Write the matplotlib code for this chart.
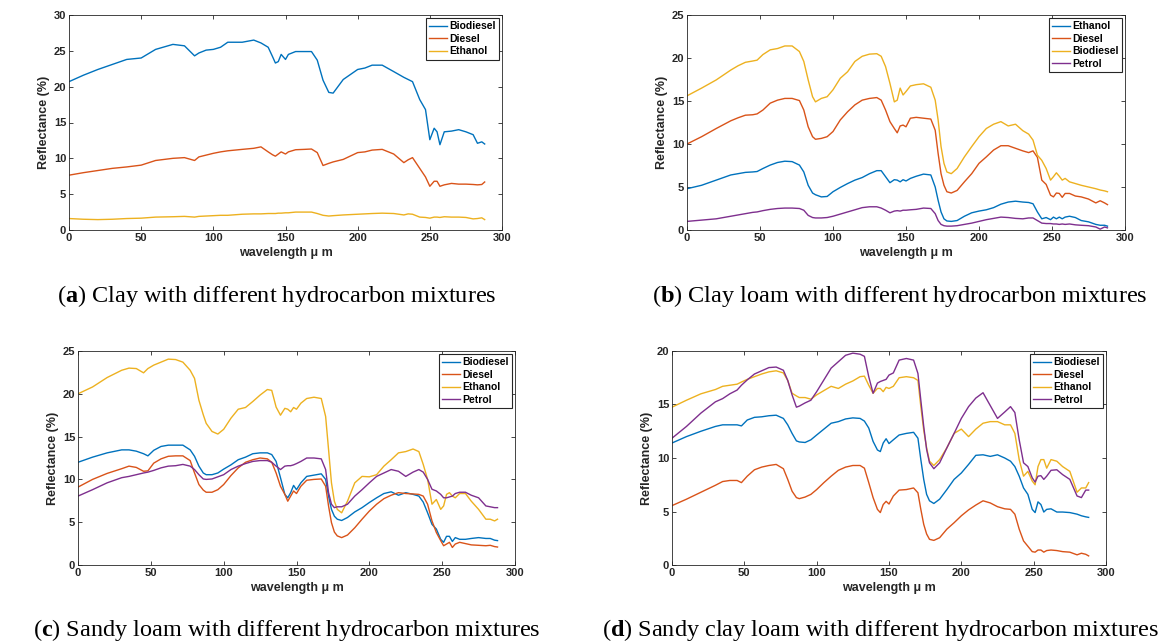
import matplotlib
matplotlib.use("Agg")
import matplotlib.pyplot as plt

plt.rcParams['font.family'] = 'Liberation Sans'
plt.rcParams['font.weight'] = 'bold'
plt.rcParams['axes.labelweight'] = 'bold'
plt.rcParams['mathtext.fontset'] = 'custom'
plt.rcParams['mathtext.rm'] = 'Liberation Serif'
plt.rcParams['mathtext.bf'] = 'Liberation Serif:bold'

# MATLAB default line colours
BLUE, RED, YELLOW, PURPLE = '#0072BD', '#D95319', '#EDB120', '#7E2F8E'
DARK = '#262626'

# ---- panel (a): clay ----
wl_a = [0, 10, 20, 30, 40, 50, 60, 72, 80, 87,
        90, 95, 100, 105, 110, 120, 128, 133, 138, 141,
        143, 145, 147, 150, 152, 157, 163, 168, 172, 176,
        180, 183, 190, 200, 205, 210, 217, 225, 232, 235,
        238, 243, 247, 250, 253, 255, 257, 260, 265, 270,
        275, 280, 283, 286, 288]
a_biodiesel = [20.7, 21.6, 22.4, 23.1, 23.8, 24.0, 25.2, 25.9, 25.7, 24.3,
               24.7, 25.1, 25.2, 25.5, 26.2, 26.2, 26.5, 26.1, 25.5, 24.2,
               23.3, 23.5, 24.5, 23.8, 24.5, 24.9, 24.9, 24.9, 23.7, 20.9,
               19.2, 19.1, 21.0, 22.4, 22.6, 23.0, 23.0, 22.1, 21.3, 21.0,
               20.7, 18.2, 16.8, 12.6, 14.2, 13.7, 11.9, 13.7, 13.8, 14.0,
               13.7, 13.3, 12.1, 12.3, 12.0]
a_diesel = [7.65, 8.0, 8.3, 8.6, 8.8, 9.05, 9.7, 10.0, 10.1, 9.7,
            10.2, 10.45, 10.7, 10.9, 11.05, 11.25, 11.4, 11.6, 10.9, 10.5,
            10.3, 10.6, 10.9, 10.6, 10.9, 11.2, 11.25, 11.3, 10.8, 9.0,
            9.3, 9.5, 9.85, 10.8, 10.9, 11.15, 11.25, 10.6, 9.4, 9.8,
            10.1, 8.6, 7.4, 6.1, 6.8, 6.8, 6.1, 6.3, 6.5, 6.4,
            6.4, 6.35, 6.3, 6.35, 6.7]
a_ethanol = [1.6, 1.5, 1.45, 1.5, 1.6, 1.65, 1.8, 1.85, 1.9, 1.8,
             1.9, 1.95, 2.0, 2.05, 2.05, 2.2, 2.25, 2.25, 2.3, 2.3,
             2.3, 2.35, 2.35, 2.4, 2.4, 2.5, 2.5, 2.5, 2.3, 2.05,
             1.95, 2.0, 2.1, 2.2, 2.25, 2.3, 2.35, 2.3, 2.1, 2.25,
             2.2, 1.8, 1.75, 1.65, 1.8, 1.8, 1.75, 1.85, 1.8, 1.8,
             1.75, 1.55, 1.6, 1.7, 1.45]

# ---- shared wavelength grid for panels (b), (c), (d) ----
wl = [0, 10, 20, 30, 35, 40, 45, 48, 52, 57,
      62, 67, 72, 77, 80, 83, 86, 88, 92, 96,
      100, 105, 110, 115, 120, 125, 130, 133, 136, 139,
      142, 144, 146, 148, 150, 153, 157, 162, 167, 170,
      172, 174, 176, 178, 181, 185, 190, 195, 200, 205,
      210, 215, 220, 225, 230, 234, 237, 240, 243, 246,
      249, 251, 253, 255, 257, 259, 262, 266, 270, 275,
      280, 283, 286, 288]

# ---- panel (b): clay loam ----
b_ethanol = [4.8, 5.2, 5.8, 6.4, 6.55, 6.7, 6.75, 6.8, 7.15, 7.55,
             7.85, 8.0, 7.95, 7.55, 6.75, 5.2, 4.3, 4.1, 3.85, 3.9,
             4.45, 4.95, 5.4, 5.8, 6.1, 6.55, 6.9, 6.9, 6.2, 5.5,
             5.85, 5.8, 5.6, 5.85, 5.7, 6.0, 6.25, 6.5, 6.4, 5.0,
             3.45, 2.1, 1.3, 1.05, 1.0, 1.1, 1.6, 2.0, 2.2, 2.35,
             2.6, 3.0, 3.25, 3.35, 3.25, 3.2, 3.05, 2.1, 1.3, 1.45,
             1.2, 1.5, 1.3, 1.5, 1.3, 1.5, 1.6, 1.45, 1.1, 0.95,
             0.65, 0.55, 0.55, 0.45]
b_diesel = [10.0, 10.85, 11.8, 12.7, 13.05, 13.35, 13.4, 13.5, 13.95, 14.75,
            15.1, 15.3, 15.3, 15.05, 13.95, 12.0, 10.85, 10.55, 10.65, 10.85,
            11.45, 12.8, 13.75, 14.55, 15.1, 15.3, 15.4, 15.1, 13.95, 12.6,
            11.8, 11.3, 12.1, 12.2, 12.0, 13.0, 13.1, 13.0, 12.9, 11.6,
            8.9, 6.55, 5.2, 4.45, 4.3, 4.6, 5.6, 6.55, 7.75, 8.5,
            9.3, 9.8, 9.8, 9.5, 9.2, 9.0, 9.2, 8.45, 5.8, 5.3,
            4.05, 3.85, 4.3, 4.25, 3.8, 4.25, 4.25, 3.95, 3.85, 3.6,
            3.15, 3.4, 3.15, 2.95]
b_biodiesel = [15.6, 16.5, 17.45, 18.6, 19.1, 19.5, 19.65, 19.75, 20.4, 20.95,
               21.1, 21.4, 21.4, 20.75, 19.6, 17.45, 15.5, 14.9, 15.3, 15.5,
               16.3, 17.65, 18.4, 19.6, 20.2, 20.45, 20.5, 20.2, 19.0, 17.05,
               14.9, 15.1, 16.5, 15.7, 16.1, 16.75, 16.9, 17.0, 16.6, 15.1,
               12.8, 9.7, 7.75, 6.75, 6.55, 7.15, 8.5, 9.7, 10.85, 11.8,
               12.3, 12.6, 12.1, 12.3, 11.55, 11.15, 10.45, 8.7, 8.1, 7.15,
               5.8, 6.2, 6.65, 6.25, 5.8, 6.0, 5.6, 5.4, 5.2, 5.0,
               4.8, 4.65, 4.55, 4.45]
b_petrol = [1.0, 1.15, 1.3, 1.6, 1.75, 1.9, 2.05, 2.1, 2.25, 2.4,
            2.5, 2.55, 2.55, 2.5, 2.3, 1.7, 1.45, 1.4, 1.4, 1.45,
            1.6, 1.85, 2.1, 2.35, 2.6, 2.7, 2.7, 2.55, 2.3, 2.0,
            2.2, 2.25, 2.2, 2.3, 2.3, 2.35, 2.4, 2.55, 2.5, 1.9,
            1.1, 0.65, 0.5, 0.45, 0.45, 0.5, 0.65, 0.8, 1.0, 1.2,
            1.35, 1.5, 1.45, 1.35, 1.3, 1.4, 1.4, 1.1, 0.8, 0.75,
            0.75, 0.7, 0.7, 0.65, 0.7, 0.65, 0.7, 0.6, 0.55, 0.5,
            0.35, 0.1, 0.35, 0.25]

# ---- panel (c): sandy loam ----
c_biodiesel = [12.0, 12.6, 13.1, 13.45, 13.45, 13.3, 13.0, 12.75, 13.4, 13.85,
               14.0, 14.0, 14.0, 13.45, 12.7, 11.55, 10.75, 10.55, 10.55, 10.75,
               11.2, 11.7, 12.3, 12.6, 13.0, 13.1, 13.1, 12.9, 12.1, 10.2,
               8.25, 7.85, 8.45, 9.3, 8.8, 9.6, 10.35, 10.5, 10.65, 10.0,
               8.05, 6.5, 5.7, 5.35, 5.2, 5.55, 6.2, 6.7, 7.3, 7.85,
               8.35, 8.55, 8.15, 8.45, 8.25, 8.05, 7.35, 6.1, 4.75, 4.2,
               3.0, 2.65, 3.35, 3.35, 2.75, 3.2, 3.0, 3.0, 3.1, 3.2,
               3.1, 3.1, 2.9, 2.85]
c_diesel = [9.1, 10.0, 10.7, 11.25, 11.55, 11.4, 10.95, 11.0, 11.9, 12.4,
            12.7, 12.75, 12.75, 12.2, 10.75, 9.4, 8.75, 8.5, 8.5, 8.8,
            9.4, 10.45, 11.35, 12.0, 12.3, 12.5, 12.4, 12.0, 10.75, 9.2,
            8.25, 7.45, 8.05, 8.65, 8.35, 9.2, 9.9, 10.0, 10.05, 9.2,
            6.9, 4.95, 3.85, 3.4, 3.2, 3.5, 4.35, 5.35, 6.3, 7.1,
            7.75, 8.15, 8.45, 8.35, 8.3, 8.25, 8.05, 7.1, 5.15, 3.8,
            2.85, 2.25, 2.45, 2.65, 2.05, 2.45, 2.65, 2.5, 2.35, 2.3,
            2.25, 2.3, 2.15, 2.1]
c_ethanol = [20.0, 20.8, 21.9, 22.75, 23.0, 22.95, 22.45, 22.95, 23.35, 23.7,
             24.05, 24.0, 23.7, 22.75, 21.8, 19.25, 17.55, 16.55, 15.6, 15.3,
             15.85, 17.15, 18.2, 18.4, 19.1, 19.85, 20.5, 20.4, 18.45, 17.5,
             18.3, 18.2, 17.9, 18.4, 18.2, 18.9, 19.45, 19.6, 19.45, 17.35,
             13.5, 9.6, 7.45, 6.5, 6.1, 7.45, 9.6, 10.35, 10.3, 10.55,
             11.55, 12.3, 13.1, 13.25, 13.55, 13.25, 11.75, 10.0, 7.1, 7.65,
             6.5, 6.9, 8.25, 8.45, 8.05, 7.85, 8.35, 8.35, 7.45, 6.5,
             5.35, 5.35, 5.15, 5.35]
c_petrol = [8.05, 8.8, 9.6, 10.2, 10.35, 10.55, 10.75, 10.85, 11.05, 11.35,
            11.55, 11.6, 11.75, 11.55, 11.15, 10.55, 10.05, 10.0, 10.05, 10.3,
            10.55, 11.15, 11.55, 11.85, 12.1, 12.2, 12.2, 12.0, 11.55, 11.15,
            11.55, 11.6, 11.6, 11.7, 11.85, 12.1, 12.5, 12.5, 12.4, 11.15,
            8.45, 7.1, 6.7, 6.8, 6.8, 7.1, 8.05, 8.8, 9.6, 10.35,
            10.75, 11.15, 10.95, 10.35, 10.85, 11.15, 10.85, 10.0, 8.85, 8.65,
            8.25, 7.85, 7.85, 7.95, 8.05, 8.35, 8.5, 8.5, 8.15, 7.85,
            6.9, 6.8, 6.7, 6.7]

# ---- panel (d): sandy clay loam ----
d_biodiesel = [11.4, 12.0, 12.5, 12.95, 13.1, 13.1, 13.1, 13.0, 13.55, 13.8,
               13.85, 13.95, 14.0, 13.7, 13.1, 12.3, 11.6, 11.5, 11.45, 11.7,
               12.15, 12.7, 13.25, 13.4, 13.65, 13.75, 13.7, 13.45, 12.8, 11.55,
               10.75, 10.6, 11.4, 11.8, 11.35, 11.7, 12.15, 12.3, 12.4, 11.85,
               9.85, 8.0, 6.6, 6.0, 5.75, 6.15, 7.05, 8.0, 8.6, 9.4,
               10.25, 10.3, 10.15, 10.3, 10.0, 9.7, 9.2, 8.3, 7.2, 6.6,
               5.2, 4.9, 5.9, 5.65, 4.95, 5.2, 5.25, 4.95, 4.95, 4.9,
               4.75, 4.6, 4.5, 4.45]
d_diesel = [5.55, 6.15, 6.8, 7.45, 7.8, 7.9, 7.9, 7.7, 8.3, 8.9,
            9.15, 9.3, 9.4, 9.0, 8.0, 6.9, 6.3, 6.2, 6.35, 6.6,
            7.05, 7.7, 8.3, 8.85, 9.15, 9.3, 9.3, 9.05, 7.7, 6.3,
            5.2, 4.9, 5.65, 5.95, 5.7, 6.45, 7.0, 7.05, 7.2, 6.75,
            5.2, 3.8, 2.9, 2.4, 2.3, 2.55, 3.35, 3.95, 4.6, 5.15,
            5.6, 6.0, 5.8, 5.45, 5.25, 5.2, 4.75, 3.35, 2.25, 1.75,
            1.25, 1.2, 1.4, 1.4, 1.2, 1.35, 1.4, 1.35, 1.25, 1.2,
            0.95, 1.1, 1.0, 0.85]
d_ethanol = [14.75, 15.4, 16.0, 16.4, 16.7, 16.8, 16.9, 17.1, 17.35, 17.6,
             17.85, 18.05, 18.15, 17.95, 17.25, 16.05, 15.8, 15.65, 15.65, 15.5,
             15.9, 16.3, 16.7, 16.5, 16.9, 17.2, 17.6, 17.65, 16.8, 16.05,
             16.5, 16.5, 16.2, 16.6, 16.5, 16.7, 17.5, 17.6, 17.5, 17.25,
             14.8, 12.6, 10.95, 9.7, 9.3, 9.85, 10.95, 12.3, 12.7, 12.0,
             12.7, 13.25, 13.4, 13.4, 13.1, 13.1, 12.3, 9.85, 8.3, 8.75,
             7.85, 7.5, 9.2, 9.85, 9.85, 9.05, 9.85, 9.7, 9.2, 8.75,
             6.8, 7.2, 7.2, 7.7]
d_petrol = [11.85, 12.95, 14.2, 15.25, 15.55, 16.0, 16.35, 16.8, 17.3, 17.85,
            18.15, 18.45, 18.5, 18.2, 17.25, 15.9, 14.75, 14.85, 15.15, 15.4,
            16.2, 17.3, 18.4, 19.0, 19.6, 19.8, 19.7, 19.5, 17.6, 16.05,
            17.0, 17.15, 17.25, 17.35, 17.75, 17.95, 19.15, 19.3, 19.15, 17.9,
            15.4, 12.95, 10.8, 9.55, 9.0, 9.55, 10.95, 12.3, 13.7, 14.8,
            15.6, 16.1, 14.9, 13.7, 14.3, 14.8, 14.25, 11.7, 9.55, 9.2,
            8.15, 7.75, 8.3, 8.35, 8.0, 8.3, 8.85, 8.9, 8.45, 8.0,
            6.45, 6.3, 7.0, 7.0]

W, H = 1168, 644
fig = plt.figure(figsize=(W / 100, H / 100), dpi=100)


def panel(box, ymax, series, caption, letter, cap_xy):
    """box = (left, top, right, bottom) in pixels of the figure."""
    l, t, r, b = box
    ax = fig.add_axes([l / W, 1 - b / H, (r - l) / W, (b - t) / H])
    for x, y, col, lab in series:
        ax.plot(x, y, color=col, lw=1.0, label=lab)
    ax.set_xlim(0, 300)
    ax.set_ylim(0, ymax)
    ax.set_xticks(range(0, 301, 50))
    ax.set_yticks(range(0, ymax + 1, 5))
    ax.tick_params(direction='in', top=True, right=True, length=3, width=0.6,
                   labelsize=8, colors=DARK, pad=2)
    for s in ax.spines.values():
        s.set_color(DARK)
        s.set_linewidth(0.6)
    ax.set_xlabel('wavelength μ m', fontsize=9, fontweight='bold', color=DARK, labelpad=3)
    ax.set_ylabel('Reflectance (%)', fontsize=9, fontweight='bold', color=DARK, labelpad=3)
    leg = ax.legend(loc='upper right', fontsize=7.5, fancybox=False, framealpha=1,
                    edgecolor=DARK, handlelength=1.7, handletextpad=0.2,
                    labelspacing=0.25, borderpad=0.3, borderaxespad=0.3)
    leg.get_frame().set_linewidth(0.8)
    cx, cy = cap_xy
    fig.text(cx / W, 1 - cy / H, '(' + r'$\mathbf{' + letter + '}$' + ') ' + caption,
             family='Liberation Serif', weight='normal', fontsize=17.5,
             color='black', ha='center', va='baseline')
    return ax


panel((69, 15, 502, 230), 30,
      [(wl_a, a_biodiesel, BLUE, 'Biodiesel'),
       (wl_a, a_diesel, RED, 'Diesel'),
       (wl_a, a_ethanol, YELLOW, 'Ethanol')],
      'Clay with different hydrocarbon mixtures', 'a', (277, 302))

panel((687, 15, 1125, 230), 25,
      [(wl, b_ethanol, BLUE, 'Ethanol'),
       (wl, b_diesel, RED, 'Diesel'),
       (wl, b_biodiesel, YELLOW, 'Biodiesel'),
       (wl, b_petrol, PURPLE, 'Petrol')],
      'Clay loam with different hydrocarbon mixtures', 'b', (900, 302))

panel((78, 351, 515, 565), 25,
      [(wl, c_biodiesel, BLUE, 'Biodiesel'),
       (wl, c_diesel, RED, 'Diesel'),
       (wl, c_ethanol, YELLOW, 'Ethanol'),
       (wl, c_petrol, PURPLE, 'Petrol')],
      'Sandy loam with different hydrocarbon mixtures', 'c', (287, 636))

panel((672, 351, 1106, 565), 20,
      [(wl, d_biodiesel, BLUE, 'Biodiesel'),
       (wl, d_diesel, RED, 'Diesel'),
       (wl, d_ethanol, YELLOW, 'Ethanol'),
       (wl, d_petrol, PURPLE, 'Petrol')],
      'Sandy clay loam with different hydrocarbon mixtures', 'd', (880, 636))

fig.savefig('out.png', dpi=100)
